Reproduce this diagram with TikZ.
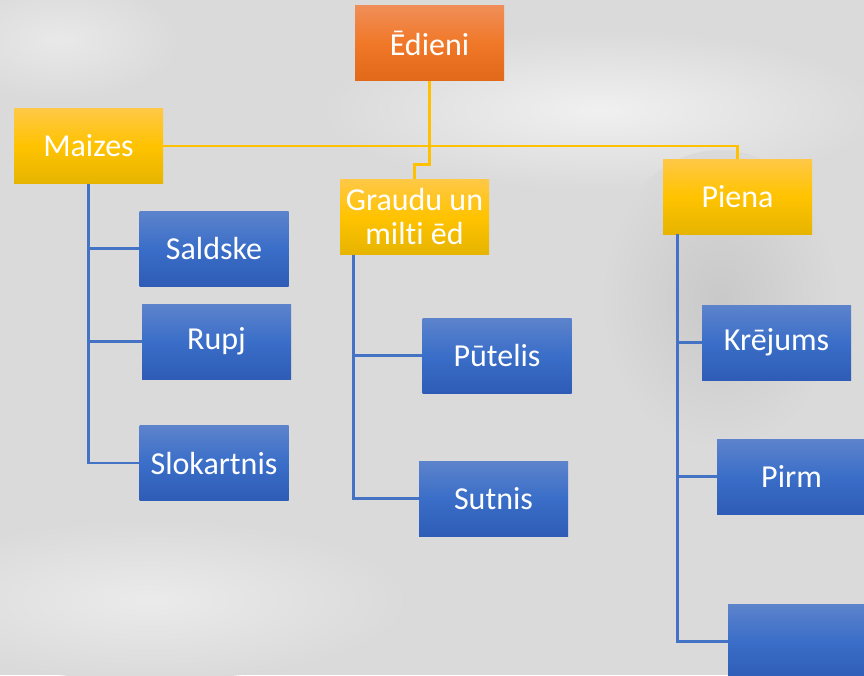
\documentclass[tikz,border=0pt]{standalone}
\usepackage{fontspec}
\setmainfont[Ligatures={NoCommon}]{Carlito}
\begin{document}
\begin{tikzpicture}[x=1pt,y=-1pt,
  box/.style={minimum width=149pt,minimum height=75pt,inner sep=0pt,text=white,
    font=\fontsize{32}{34}\selectfont,align=center},
  bluebox/.style={box,top color=blue1,bottom color=blue3,middle color=blue2},
  yelbox/.style={box,top color=yel1,bottom color=yel3,middle color=yel2},
  orabox/.style={box,top color=ora1,bottom color=ora3,middle color=ora2},
  yline/.style={draw=ylin,line width=2.8pt},
  bline/.style={draw=blin,line width=2.8pt}]
\definecolor{bg}{RGB}{218,218,218}
\definecolor{blue1}{RGB}{93,131,204}
\definecolor{blue2}{RGB}{58,110,200}
\definecolor{blue3}{RGB}{46,92,182}
\definecolor{yel1}{RGB}{255,200,70}
\definecolor{yel2}{RGB}{255,195,0}
\definecolor{yel3}{RGB}{230,180,0}
\definecolor{ora1}{RGB}{240,142,88}
\definecolor{ora2}{RGB}{240,120,40}
\definecolor{ora3}{RGB}{226,104,26}
\definecolor{ylin}{RGB}{255,192,0}
\definecolor{blin}{RGB}{68,114,196}
\useasboundingbox (0,0) rectangle (864,675);
\fill[bg] (0,0) rectangle (864,675);
\shade[inner color=white!60!bg,outer color=bg] (600,110) ellipse [x radius=280,y radius=80];
\shade[inner color=white!45!bg,outer color=bg] (150,600) ellipse [x radius=260,y radius=80];
\shade[inner color=bg!92!black,outer color=bg] (720,300) ellipse [x radius=120,y radius=150];
\shade[inner color=white!40!bg,outer color=bg] (60,40) ellipse [x radius=120,y radius=60];

\node[orabox] (ed) at (429.5,43) {Ēdieni};
\node[yelbox] (mz) at (88.5,146) {Maizes};
\node[yelbox] (gr) at (414.5,217) {Graudu un\\milti ēd};
\node[yelbox] (pi) at (737.5,196.5) {Piena};
\node[bluebox] (sa) at (214,248.5) {Saldske};
\node[bluebox] (ru) at (216.5,341.5) {Rupj};
\node[bluebox] (sl) at (214,463) {Slokartnis};
\node[bluebox] (pu) at (497,355.5) {Pūtelis};
\node[bluebox] (su) at (493.5,498.5) {Sutnis};
\node[bluebox] (kr) at (776.5,342.5) {Krējums};
\node[bluebox] (pr) at (791.5,476.5) {Pirm};
\node[bluebox] (em) at (802.5,641.5) {};

\draw[yline] (ed.south) -- ++(0,84) coordinate (edb) -| (gr.north);
\draw[yline] (mz.east) -| (pi.north);

\draw[bline] (mz.south) |- (sl.west);
\draw[bline] (mz.south |- sa.west) -- (sa.west);
\draw[bline] (mz.south |- ru.west) -- (ru.west);

\coordinate (grs) at ([xshift=14pt]gr.south west);
\draw[bline] (grs) |- (su.west);
\draw[bline] (grs |- pu.west) -- (pu.west);

\coordinate (pis) at ([xshift=15pt]pi.south west);
\draw[bline] (pis) |- (em.west);
\draw[bline] (pis |- kr.west) -- (kr.west);
\draw[bline] (pis |- pr.west) -- (pr.west);
\end{tikzpicture}
\end{document}
